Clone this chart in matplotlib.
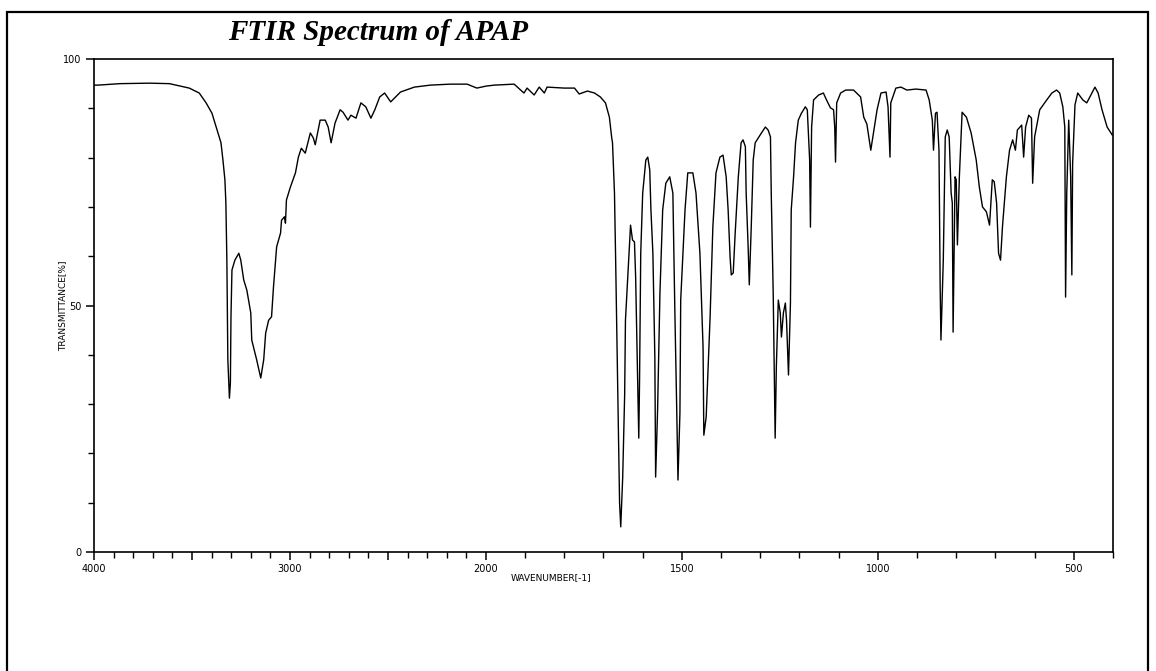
import numpy as np
import matplotlib
matplotlib.use("Agg")
import matplotlib.pyplot as plt
from matplotlib.ticker import FixedLocator
from matplotlib.patches import Rectangle

# spectrum: wavenumber (cm-1) and transmittance (%)
wavenumber_high = [4000, 3980, 3868, 3716, 3615, 3514, 3463, 3428, 3398, 3372,
                   3352, 3342, 3332, 3327, 3322, 3317, 3309, 3304, 3301, 3296,
                   3281, 3261, 3251, 3236, 3220, 3200, 3195, 3170, 3149, 3134,
                   3124, 3109, 3094, 3084, 3068, 3048, 3043, 3028, 3023, 3018,
                   2998, 2972, 2957, 2942, 2922, 2896, 2881, 2871, 2846, 2820,
                   2805, 2790, 2770, 2744, 2729, 2704, 2689, 2663, 2638, 2613,
                   2587, 2567, 2542, 2517, 2486, 2436, 2365, 2284, 2182, 2096,
                   2046, 2000]
transmittance_high = [94.7, 94.7, 95.0, 95.1, 95.0, 94.1, 93.1, 91.1, 89.0, 85.6,
                      83.0, 79.5, 75.5, 70.8, 59.2, 39.0, 31.2, 34.3, 47.7, 57.2,
                      59.2, 60.6, 59.2, 55.2, 53.1, 48.5, 43.0, 39.0, 35.3, 39.0,
                      44.4, 47.0, 47.7, 53.8, 61.9, 64.7, 67.3, 68.0, 66.7, 71.4,
                      74.0, 76.9, 80.1, 81.9, 80.9, 85.0, 84.0, 82.6, 87.6, 87.6,
                      86.2, 83.0, 87.0, 89.7, 89.2, 87.6, 88.6, 88.0, 91.1, 90.3,
                      88.0, 89.7, 92.3, 93.1, 91.3, 93.3, 94.3, 94.7, 94.9, 94.9,
                      94.1, 94.5]

wavenumber_low = [1979, 1928, 1903, 1895, 1877, 1864, 1851, 1844, 1800, 1774,
                  1762, 1741, 1723, 1708, 1695, 1685, 1679, 1677, 1672, 1669,
                  1664, 1659, 1656, 1651, 1646, 1644, 1638, 1633, 1631, 1626,
                  1621, 1618, 1613, 1610, 1608, 1605, 1600, 1592, 1587, 1582,
                  1579, 1574, 1569, 1567, 1562, 1556, 1549, 1541, 1531, 1523,
                  1518, 1515, 1513, 1510, 1505, 1503, 1492, 1485, 1472, 1464,
                  1454, 1446, 1444, 1438, 1428, 1421, 1413, 1403, 1395, 1387,
                  1382, 1377, 1374, 1369, 1364, 1356, 1349, 1344, 1338, 1336,
                  1331, 1328, 1323, 1318, 1313, 1305, 1297, 1287, 1280, 1274,
                  1272, 1267, 1262, 1259, 1254, 1249, 1246, 1241, 1236, 1233,
                  1228, 1223, 1221, 1215, 1210, 1203, 1195, 1185, 1180, 1174,
                  1172, 1169, 1164, 1151, 1139, 1131, 1121, 1113, 1110, 1108,
                  1105, 1095, 1082, 1062, 1044, 1036, 1028, 1018, 1010, 1002,
                  992, 979, 974, 969, 967, 954, 941, 926, 903, 877,
                  869, 861, 858, 853, 849, 844, 841, 839, 833, 828,
                  823, 818, 813, 810, 808, 803, 800, 797, 792, 785,
                  774, 762, 749, 741, 733, 723, 715, 708, 703, 697,
                  692, 687, 682, 672, 664, 656, 649, 644, 633, 628,
                  623, 615, 608, 605, 600, 587, 569, 556, 544, 536,
                  528, 523, 521, 518, 513, 508, 505, 503, 497, 490,
                  477, 467, 459, 446, 438, 428, 415, 402]
transmittance_low = [94.7, 94.9, 93.1, 94.1, 92.7, 94.3, 93.1, 94.3, 94.1, 94.1,
                     92.9, 93.5, 93.1, 92.3, 91.1, 88.2, 84.0, 83.0, 72.8, 59.2,
                     34.3, 10.0, 5.1, 15.2, 32.0, 47.0, 55.8, 63.3, 66.3, 63.3,
                     62.9, 55.8, 34.9, 23.1, 34.9, 60.6, 72.8, 79.5, 80.1, 77.5,
                     69.4, 60.6, 39.6, 15.2, 28.8, 52.5, 69.4, 74.8, 76.1, 72.8,
                     49.1, 36.9, 28.2, 14.6, 28.2, 51.1, 69.4, 76.9, 76.9, 72.8,
                     60.6, 41.6, 23.7, 27.4, 47.7, 65.9, 76.9, 80.1, 80.5, 76.1,
                     69.4, 59.8, 56.2, 56.6, 64.7, 76.1, 83.0, 83.6, 82.2, 72.8,
                     62.0, 54.2, 66.0, 79.5, 83.0, 84.0, 85.0, 86.2, 85.6, 84.2,
                     72.8, 52.5, 23.1, 37.5, 51.1, 48.5, 43.6, 48.5, 50.5, 47.0,
                     35.9, 50.5, 69.4, 76.1, 83.0, 87.6, 89.0, 90.3, 89.7, 79.5,
                     65.9, 86.2, 91.7, 92.7, 93.1, 91.7, 90.1, 89.7, 86.2, 79.1,
                     91.1, 93.1, 93.7, 93.7, 92.3, 88.2, 86.8, 81.5, 85.6, 89.7,
                     93.1, 93.3, 90.3, 80.1, 91.1, 94.1, 94.3, 93.7, 93.9, 93.7,
                     91.7, 87.6, 81.5, 89.0, 89.2, 81.5, 53.8, 43.0, 59.2, 84.2,
                     85.6, 84.2, 72.8, 70.8, 44.6, 76.1, 75.5, 62.3, 76.1, 89.2,
                     88.2, 85.0, 79.5, 74.0, 70.0, 69.0, 66.3, 75.5, 75.1, 70.8,
                     60.6, 59.2, 66.0, 76.1, 81.5, 83.6, 81.5, 85.6, 86.6, 80.1,
                     86.2, 88.6, 88.0, 74.8, 84.2, 89.7, 91.7, 93.1, 93.7, 93.1,
                     90.3, 86.2, 51.7, 72.8, 87.6, 76.1, 56.2, 78.9, 90.7, 93.1,
                     91.7, 91.1, 92.3, 94.3, 93.1, 89.7, 86.2, 84.6]

x_labeled = [4000, 3000, 2000, 1500, 1000, 500]
x_half = [3500, 2500]
y_labeled = [0, 50, 100]

wn = np.array(wavenumber_high + wavenumber_low, dtype=float)
tr = np.array(transmittance_high + transmittance_low, dtype=float)


# scale changes at 2000 cm-1: the region above is compressed by half
def fwd(x):
    x = np.asarray(x, dtype=float)
    return np.where(x > 2000, 2000 + (x - 2000) / 2.0, x)


def inv(u):
    u = np.asarray(u, dtype=float)
    return np.where(u > 2000, 2000 + (u - 2000) * 2.0, u)


fig = plt.figure(figsize=(11.56, 6.71), dpi=100)
ax = fig.add_axes([94 / 1156, 119 / 671, 1019 / 1156, 493 / 671])

ax.plot(wn, tr, color="black", lw=1.0)

ax.set_xscale("function", functions=(fwd, inv))
ax.set_xlim(4000, 400)
ax.set_ylim(0, 100)

# ticks
ax.xaxis.set_major_locator(FixedLocator(x_labeled + x_half))
ax.set_xticklabels([str(v) for v in x_labeled] + ["", ""])
ax.xaxis.set_minor_locator(FixedLocator(list(range(400, 4001, 100))))
ax.yaxis.set_major_locator(FixedLocator(y_labeled))
ax.set_yticklabels([str(v) for v in y_labeled])
ax.yaxis.set_minor_locator(FixedLocator(list(range(0, 101, 10))))
ax.tick_params(which="major", direction="out", length=6, width=1.1,
               labelsize=7, pad=3)
ax.tick_params(which="minor", direction="out", length=4, width=1.0)
for sp in ax.spines.values():
    sp.set_linewidth(1.2)

ax.set_xlabel("WAVENUMBER[-1]", fontsize=6.5)
ax.xaxis.set_label_coords((551 - 94) / 1019, -0.043)
ax.set_ylabel("TRANSMITTANCE[%]", fontsize=6.5)
ax.yaxis.set_label_coords(-0.026, 0.5)

fig.text(378 / 1156, 1 - 32 / 671, "FTIR Spectrum of APAP", ha="center",
         va="center", family="Liberation Serif", fontweight="bold",
         style="italic", fontsize=21)

# outer frame of the picture
frame = Rectangle((7 / 1156, -0.02), (1148 - 7) / 1156, 1.02 - 12 / 671,
                  transform=fig.transFigure, fill=False, lw=1.6,
                  edgecolor="black", clip_on=False)
fig.add_artist(frame)

fig.savefig("out.png", dpi=100)
